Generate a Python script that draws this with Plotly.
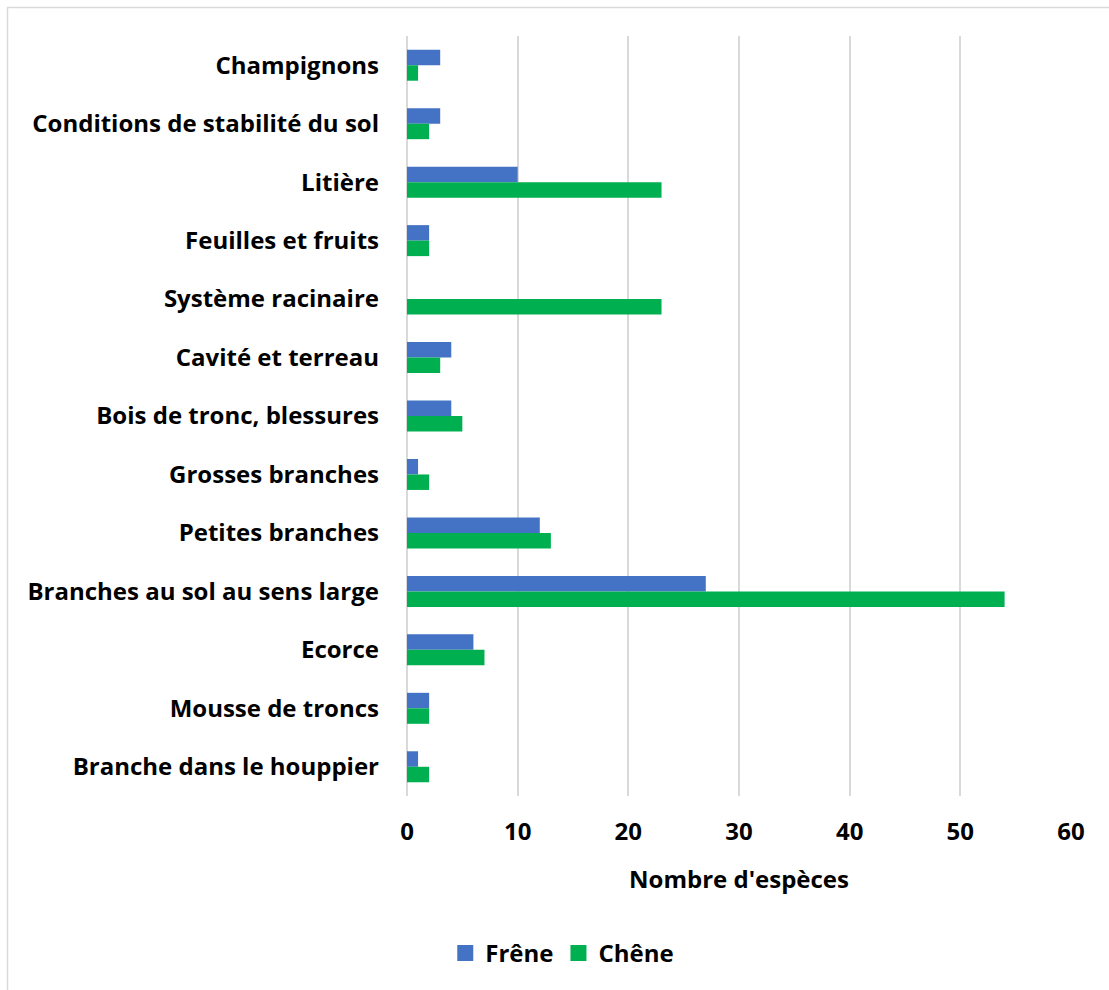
import plotly.graph_objects as go

categories = [
    "Champignons",
    "Conditions de stabilité du sol",
    "Litière",
    "Feuilles et fruits",
    "Système racinaire",
    "Cavité et terreau",
    "Bois de tronc, blessures",
    "Grosses branches",
    "Petites branches",
    "Branches au sol au sens large",
    "Ecorce",
    "Mousse de troncs",
    "Branche dans le houppier",
]
frene = [3, 3, 10, 2, 0, 4, 4, 1, 12, 27, 6, 2, 1]
chene = [1, 2, 23, 2, 23, 3, 5, 2, 13, 54, 7, 2, 2]
x_ticks = [0, 10, 20, 30, 40, 50, 60]

series = [("Frêne", frene, "#4472C4"), ("Chêne", chene, "#00B050")]

FONT = "Open Sans"
W, H = 1109, 990

fig = go.Figure()
for name, vals, color in series:
    fig.add_trace(go.Bar(y=categories, x=vals, name=name, orientation="h",
                         legendgroup=name, showlegend=False,
                         marker=dict(color=color, line=dict(width=0))))
# Larger square swatches for the legend
for name, vals, color in series:
    fig.add_trace(go.Scatter(x=[None], y=[None], mode="markers", name=name,
                             legendgroup=name, showlegend=True,
                             marker=dict(symbol="square", size=18, color=color)))

fig.update_layout(
    width=W, height=H,
    margin=dict(l=407, r=38, t=36, b=194),
    paper_bgcolor="white", plot_bgcolor="white",
    barmode="group", bargap=0.47, bargroupgap=0,
    font=dict(family=FONT, size=24, color="black", weight="bold"),
    legend=dict(orientation="h", xref="container", x=0.507, xanchor="center",
                yref="container", y=0.037, yanchor="middle",
                font=dict(size=24, family=FONT, weight="bold"),
                itemwidth=30, traceorder="normal"),
    shapes=[dict(type="rect", xref="paper", yref="paper",
                 x0=(7.5 - 407) / 664, x1=(W + 20 - 407) / 664,
                 y0=-(H + 20 - 796) / 760, y1=(796 - 7.5) / 760,
                 line=dict(color="#d9d9d9", width=1.5), fillcolor="rgba(0,0,0,0)",
                 layer="below")],
)

fig.update_xaxes(range=[0, 60], tickvals=x_ticks, showgrid=True,
                 gridcolor="#d9d9d9", gridwidth=2, zeroline=True,
                 zerolinecolor="#d9d9d9", zerolinewidth=2,
                 showline=False, ticks="", ticklabelstandoff=19,
                 tickfont=dict(size=24, family=FONT, weight="bold"),
                 title=dict(text="Nombre d'espèces", standoff=25,
                            font=dict(size=24, family=FONT, weight="bold")))
fig.update_yaxes(autorange="reversed", showgrid=False, showline=False,
                 zeroline=False, ticks="", ticklabelstandoff=27,
                 tickfont=dict(size=24, family=FONT, weight="bold"))

fig.write_html("out.html")
